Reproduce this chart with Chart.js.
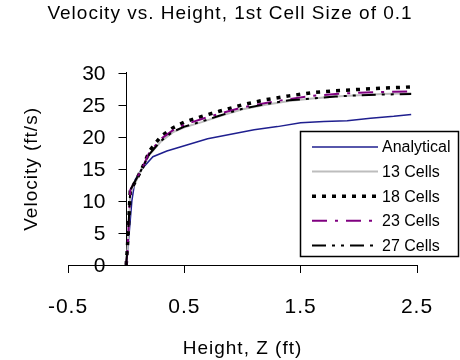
<!DOCTYPE html>
<html>
<head>
<meta charset="utf-8">
<script src="https://cdn.jsdelivr.net/npm/chart.js@4"></script>
<style>
    html, body { margin: 0; padding: 0; background: #fff; }
    #wrap { width: 460px; height: 360px; }
</style>
</head>
<body>
<div id="wrap"><canvas id="velChart"></canvas></div>
<script>
// Data
const analyticalZ = [0, 0.026, 0.049, 0.077, 0.135, 0.23, 0.35, 0.5, 0.7, 0.9, 1.1, 1.3, 1.5, 1.7, 1.9, 2.1, 2.3, 2.45];
const analyticalV = [0, 5, 10, 13.3, 15, 16.9, 17.8, 18.6, 19.7, 20.4, 21.1, 21.6, 22.2, 22.4, 22.5, 22.9, 23.2, 23.5];

const cfdZ = [0, 0.01, 0.02, 0.035, 0.135, 0.2, 0.3, 0.4, 0.5, 0.65, 0.8, 1.0, 1.2, 1.4, 1.6, 1.8, 2.0, 2.2, 2.45];
const cells13 = [0, 2, 5, 11.2, 15, 17.2, 19.3, 20.7, 21.5, 22.3, 23.2, 24.3, 25.0, 25.6, 26.0, 26.3, 26.5, 26.7, 26.8];
const cells18 = [0, 2.5, 6, 11.5, 15, 17.8, 20.1, 21.4, 22.3, 23.2, 24.0, 25.0, 25.8, 26.4, 26.9, 27.2, 27.4, 27.6, 27.8];
const cells23 = [0, 2, 5.5, 11.7, 15, 17.6, 19.7, 21.0, 21.9, 22.8, 23.6, 24.6, 25.3, 25.9, 26.4, 26.7, 26.9, 27.0, 27.1];
const cells27 = [0, 2.5, 6, 11.7, 15, 17.3, 19.4, 20.8, 21.6, 22.4, 23.3, 24.4, 25.1, 25.7, 26.0, 26.3, 26.5, 26.6, 26.7];

const xTicks = [-0.5, 0.5, 1.5, 2.5];

const FONT = 'Liberation Sans, Arial, sans-serif';

function toPoints(xs, ys) {
    return xs.map((x, i) => ({ x: x, y: ys[i] }));
}

// The original text is a bit loosely spaced
const spacing = {
    id: 'spacing',
    beforeUpdate(chart) { chart.ctx.letterSpacing = '1px'; },
    beforeDraw(chart) { chart.ctx.letterSpacing = '1px'; }
};

// y axis crosses at x = 0; ticks and labels drawn to its left
const yAxisLabels = {
    id: 'yAxisLabels',
    afterDraw(chart) {
        const ctx = chart.ctx;
        const ys = chart.scales.y;
        const ax = Math.round(chart.scales.x.getPixelForValue(0)) + 0.5;
        ctx.save();
        ctx.letterSpacing = '0px';
        ctx.strokeStyle = '#000';
        ctx.lineWidth = 1;
        ctx.fillStyle = '#000';
        ctx.font = '21px ' + FONT;
        ctx.textAlign = 'right';
        ctx.textBaseline = 'middle';
        ys.ticks.forEach(t => {
            const py = Math.round(ys.getPixelForValue(t.value)) + 0.5;
            ctx.beginPath();
            ctx.moveTo(ax - 8, py);
            ctx.lineTo(ax, py);
            ctx.stroke();
            ctx.fillText(String(t.value), ax - 21, py + 1);
        });
        ctx.restore();
    }
};

// Legend box drawn inside the plot, like the original
const boxLegend = {
    id: 'boxLegend',
    afterDatasetsDraw(chart) {
        const ctx = chart.ctx;
        const bx = 300.5, by = 131.5, bw = 158, bh = 125;
        ctx.save();
        ctx.letterSpacing = '0px';
        ctx.fillStyle = '#fff';
        ctx.fillRect(bx, by, bw, bh);
        ctx.strokeStyle = '#000';
        ctx.lineWidth = 1.5;
        ctx.strokeRect(bx, by, bw, bh);
        chart.data.datasets.forEach((ds, i) => {
            const y = 147 + i * 24.6;
            ctx.beginPath();
            ctx.strokeStyle = ds.borderColor;
            ctx.lineWidth = ds.borderWidth;
            ctx.setLineDash(ds.borderDash || []);
            ctx.moveTo(312, y);
            ctx.lineTo(378, y);
            ctx.stroke();
            ctx.setLineDash([]);
            ctx.fillStyle = '#000';
            ctx.font = '16px ' + FONT;
            ctx.textBaseline = 'middle';
            ctx.textAlign = 'left';
            ctx.fillText(ds.label, 382, y + 1);
        });
        ctx.restore();
    }
};

const ctx = document.getElementById('velChart').getContext('2d');
new Chart(ctx, {
    type: 'line',
    data: {
        datasets: [
            {
                label: 'Analytical',
                data: toPoints(analyticalZ, analyticalV),
                borderColor: '#1f1f8f',
                borderWidth: 1.5,
                order: 5
            },
            {
                label: '13 Cells',
                data: toPoints(cfdZ, cells13),
                borderColor: '#bdbdbd',
                borderWidth: 2,
                order: 4
            },
            {
                label: '18 Cells',
                data: toPoints(cfdZ, cells18),
                borderColor: '#000',
                borderWidth: 3.5,
                borderDash: [4, 6],
                order: 3
            },
            {
                label: '23 Cells',
                data: toPoints(cfdZ, cells23),
                borderColor: '#800080',
                borderWidth: 2,
                borderDash: [15, 8, 3, 8],
                order: 2
            },
            {
                label: '27 Cells',
                data: toPoints(cfdZ, cells27),
                borderColor: '#000',
                borderWidth: 2,
                borderDash: [14, 6, 3, 6, 3, 6],
                order: 1
            }
        ]
    },
    options: {
        responsive: true,
        maintainAspectRatio: false,
        animation: false,
        layout: { padding: 0 },
        elements: {
            point: { radius: 0 },
            line: { tension: 0, fill: false }
        },
        plugins: {
            legend: { display: false },
            tooltip: { enabled: false },
            title: {
                display: true,
                text: 'Velocity vs. Height, 1st Cell Size of 0.1',
                color: '#000',
                font: { family: FONT, size: 19, weight: 'normal' },
                padding: { top: 2, bottom: 48 }
            }
        },
        scales: {
            x: {
                type: 'linear',
                min: -0.5,
                max: 2.5,
                afterBuildTicks: (scale) => {
                    scale.ticks = xTicks.map(v => ({ value: v }));
                },
                afterFit: (scale) => { scale.height = 95; },
                grid: { drawOnChartArea: false, drawTicks: true, tickLength: 8, tickColor: '#000' },
                border: { color: '#000', width: 1 },
                ticks: {
                    color: '#000',
                    padding: 22,
                    maxRotation: 0,
                    font: { family: FONT, size: 21 }
                },
                title: {
                    display: true,
                    text: 'Height, Z (ft)',
                    color: '#000',
                    font: { family: FONT, size: 19 },
                    padding: { top: 4, bottom: 0 }
                }
            },
            y: {
                type: 'linear',
                position: { x: 0 },
                min: 0,
                max: 30,
                grid: { drawOnChartArea: false, drawTicks: false },
                border: { color: '#000', width: 1 },
                ticks: { stepSize: 5, display: false }
            },
            yt: {
                type: 'linear',
                axis: 'y',
                position: 'left',
                min: 0,
                max: 30,
                afterFit: (scale) => { scale.width = 68; },
                grid: { display: false },
                border: { display: false },
                ticks: { display: false },
                title: {
                    display: true,
                    text: 'Velocity (ft/s)',
                    color: '#000',
                    font: { family: FONT, size: 19 },
                    padding: { top: 20, bottom: 0 }
                }
            },
            yr: {
                type: 'linear',
                axis: 'y',
                position: 'right',
                min: 0,
                max: 30,
                afterFit: (scale) => { scale.width = 43; },
                grid: { display: false },
                border: { display: false },
                ticks: { display: false }
            }
        }
    },
    plugins: [spacing, yAxisLabels, boxLegend]
});
</script>
</body>
</html>
